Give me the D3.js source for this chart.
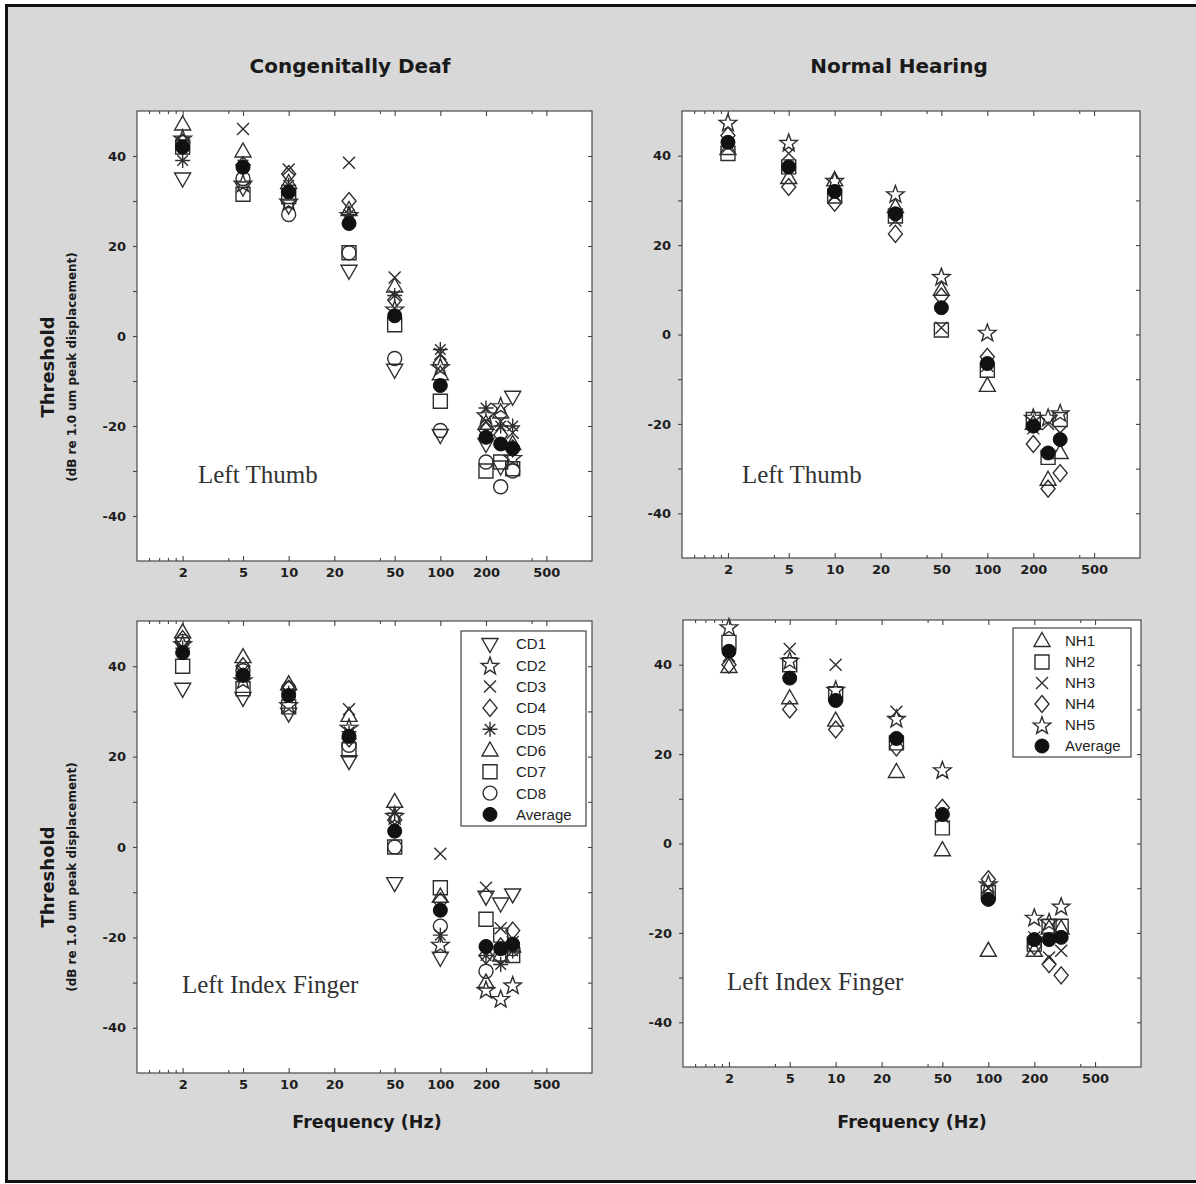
<!DOCTYPE html>
<html>
<head>
<meta charset="utf-8">
<script src="https://cdn.jsdelivr.net/npm/d3@7"></script>
<style>
  html, body { margin: 0; padding: 0; background: #ffffff; }
  svg { display: block; }
</style>
</head>
<body>
<svg id="chart" width="1196" height="1184"></svg>
<script>
// ---- data -------------------------------------------------------------
const freqs = [2, 5, 10, 25, 50, 100, 200, 250, 300];

const cdSubjects = ["CD1", "CD2", "CD3", "CD4", "CD5", "CD6", "CD7", "CD8"];
const cdSymbols  = ["triangleDown", "star", "cross", "diamond", "asterisk", "triangleUp", "square", "circle"];
const nhSubjects = ["NH1", "NH2", "NH3", "NH4", "NH5"];
const nhSymbols  = ["triangleUp", "square", "cross", "diamond", "star"];

// thresholds (dB re 1.0 um peak displacement), one row per subject
const cdThumb = [
  [35, 33, 29, 14.5, -7.5, -22, -24, -29, -13.5],
  [44, 34, 30, 27, 6, -6.8, -17.5, -15.5, -27],
  [43, 46, 37, 38.5, 13, -4, -19, -19, -21.5],
  [43, 38, 36, 30, 8, -6, -21, -22, -25],
  [39, 38, 33.5, 27, 9, -3, -16, -20, -20],
  [47, 41, 34, 28, 11, -8.5, -19.5, -17, -24],
  [42, 31.5, 31, 18.5, 2.5, -14.5, -30, -28, -29.5],
  [43, 35, 27, 18.5, -5, -21, -28, -33.5, -30]
];
const cdThumbAverage = [42, 37.5, 32, 25, 4.5, -11, -22.5, -24, -25];

const nhThumb = [
  [41.5, 35, 34.5, 28.5, 10, -11.5, -20, -32.5, -26.5],
  [40.5, 37.5, 31, 26.5, 1, -8, -19, -27.5, -19],
  [42, 40.5, 31, 25.5, 1.5, -7, -21, -20, -22],
  [44.5, 33, 29.5, 22.5, 8.5, -5, -24.5, -34.5, -31],
  [47.5, 43, 34.5, 31.5, 13, 0.5, -18.5, -18.5, -17.5]
];
const nhThumbAverage = [43, 37.5, 32, 27, 6, -6.5, -20.5, -26.5, -23.5];

const cdIndex = [
  [35, 33, 29.5, 19, -8, -24.5, -11, -12.5, -10.5],
  [45, 37, 31.5, 26.5, 7, -21.5, -31.5, -33.5, -30.5],
  [44, 39, 34, 30.5, 5, -1.5, -9, -18, -21],
  [46, 40, 35, 24, 6, -12, -24, -22, -18.5],
  [44, 38, 34, 25.5, 7.5, -19.5, -24, -26, -23],
  [47.5, 42, 36, 29, 10, -11, -30, -24, -22],
  [40, 35, 31, 21.5, 0, -9, -16, -19.5, -24],
  [45.5, 39, 35, 22.5, 0, -17.5, -27.5, -24, -22.5]
];
const cdIndexAverage = [43, 38, 33.5, 24.5, 3.5, -14, -22, -22.5, -21.5];

const nhIndex = [
  [39.5, 32.5, 27.5, 16, -1.5, -24, -24, -19, -19],
  [45, 40, 33.5, 22.5, 3.5, -11, -22.5, -18.5, -18.5],
  [42, 43.5, 40, 29.5, 6, -10, -21, -25.5, -24],
  [40, 30, 25.5, 21.5, 8, -8, -23, -27, -29.5],
  [48.5, 41, 34.5, 28, 16.5, -9, -16.5, -17.5, -14]
];
const nhIndexAverage = [43, 37, 32, 23.5, 6.5, -12.5, -21.5, -21.5, -21];

const xTickLabels = [2, 5, 10, 20, 50, 100, 200, 500];
const xMinorTicks = [1.2, 1.4, 1.6, 1.8, 4, 40, 400];
const yTickValues = [-40, -30, -20, -10, 0, 10, 20, 30, 40];

const columnTitles = ["Congenitally Deaf", "Normal Hearing"];
const siteNames = ["Left Thumb", "Left Index Finger"];
const xTitle = "Frequency (Hz)";
const yTitle = "Threshold";
const ySubtitle = "(dB re 1.0 um peak displacement)";

// ---- layout -----------------------------------------------------------
const svg = d3.select("#chart");
const INK = "#2e2e2e";
const SANS_BOLD = "'DejaVu Sans', sans-serif";

// framed page background
svg.append("rect")
  .attr("x", 6.5).attr("y", 5.5)
  .attr("width", 1196).attr("height", 1176)
  .attr("fill", "#d8d8d8")
  .attr("stroke", "#111").attr("stroke-width", 3);

// marker outlines centred on (0,0)
function symbolPath(kind) {
  const p = d3.path();
  switch (kind) {
    case "triangleUp":
      p.moveTo(0, -8.5); p.lineTo(8, 5.5); p.lineTo(-8, 5.5); p.closePath(); break;
    case "triangleDown":
      p.moveTo(0, 8.5); p.lineTo(8, -5.5); p.lineTo(-8, -5.5); p.closePath(); break;
    case "square":
      p.rect(-7, -7, 14, 14); break;
    case "circle":
      p.moveTo(7, 0); p.arc(0, 0, 7, 0, 2 * Math.PI); break;
    case "diamond":
      p.moveTo(0, -8.5); p.lineTo(7, 0); p.lineTo(0, 8.5); p.lineTo(-7, 0); p.closePath(); break;
    case "cross":
      p.moveTo(-6, -6); p.lineTo(6, 6); p.moveTo(-6, 6); p.lineTo(6, -6); break;
    case "asterisk":
      p.moveTo(-7.5, 0); p.lineTo(7.5, 0);
      p.moveTo(0, -7.5); p.lineTo(0, 7.5);
      p.moveTo(-5.3, -5.3); p.lineTo(5.3, 5.3);
      p.moveTo(-5.3, 5.3); p.lineTo(5.3, -5.3); break;
    case "star": {
      const outer = 9.2, inner = 3.8;
      for (let i = 0; i < 10; i++) {
        const r = i % 2 === 0 ? outer : inner;
        const a = -Math.PI / 2 + i * Math.PI / 5;
        const px = r * Math.cos(a), py = r * Math.sin(a) + 1;
        if (i === 0) p.moveTo(px, py); else p.lineTo(px, py);
      }
      p.closePath(); break;
    }
  }
  return p.toString();
}

function drawSymbol(sel, kind) {
  if (kind === "average") {
    sel.append("circle").attr("r", 7).attr("fill", "#111").attr("stroke", "#111").attr("stroke-width", 1);
  } else {
    sel.append("path").attr("d", symbolPath(kind))
      .attr("fill", "none").attr("stroke", INK).attr("stroke-width", 1.4);
  }
}

const panels = [
  { left: 137, top: 111, w: 455, h: 450, subjects: cdSubjects, symbols: cdSymbols, values: cdThumb, average: cdThumbAverage,
    site: siteNames[0], siteX: 61, siteY: 372, legend: null },
  { left: 682, top: 111, w: 458, h: 447, subjects: nhSubjects, symbols: nhSymbols, values: nhThumb, average: nhThumbAverage,
    site: siteNames[0], siteX: 60, siteY: 372, legend: null },
  { left: 137, top: 621, w: 455, h: 452, subjects: cdSubjects, symbols: cdSymbols, values: cdIndex, average: cdIndexAverage,
    site: siteNames[1], siteX: 45, siteY: 372,
    legend: { x: 324, y: 10, w: 125, h: 195, row: 21.3, symX: 29, textX: 55 } },
  { left: 683, top: 620, w: 458, h: 447, subjects: nhSubjects, symbols: nhSymbols, values: nhIndex, average: nhIndexAverage,
    site: siteNames[1], siteX: 44, siteY: 370,
    legend: { x: 330, y: 8, w: 118, h: 129, row: 21, symX: 29, textX: 52 } }
];

panels.forEach(pn => {
  const g = svg.append("g").attr("transform", `translate(${pn.left},${pn.top})`);
  const x = d3.scaleLog().domain([1, 1000]).range([0, pn.w]);
  const y = d3.scaleLinear().domain([-50, 50]).range([pn.h, 0]);

  g.append("rect").attr("width", pn.w).attr("height", pn.h)
    .attr("fill", "#ffffff").attr("stroke", "#4a4a4a").attr("stroke-width", 1.2);

  // axes
  const styleAxis = a => {
    a.select(".domain").remove();
    a.selectAll(".tick line").attr("stroke", "#444").attr("stroke-width", 1.1);
    a.selectAll(".tick text").attr("fill", "#1e1e1e")
      .style("font-family", SANS_BOLD).style("font-weight", "bold").style("font-size", "13px");
  };
  g.append("g").attr("transform", `translate(0,${pn.h})`)
    .call(d3.axisBottom(x).tickValues(xTickLabels).tickFormat(d => String(d))
      .tickSizeInner(-5).tickSizeOuter(0).tickPadding(7))
    .call(styleAxis);
  g.append("g").attr("transform", `translate(0,${pn.h})`)
    .call(d3.axisBottom(x).tickValues(xMinorTicks).tickFormat("").tickSizeInner(-3).tickSizeOuter(0))
    .call(styleAxis);
  g.append("g")
    .call(d3.axisTop(x).tickValues(xTickLabels).tickFormat("").tickSizeInner(-5).tickSizeOuter(0))
    .call(styleAxis);
  g.append("g")
    .call(d3.axisTop(x).tickValues(xMinorTicks).tickFormat("").tickSizeInner(-3).tickSizeOuter(0))
    .call(styleAxis);
  g.append("g")
    .call(d3.axisLeft(y).tickValues(yTickValues).tickFormat(d => d % 20 === 0 ? String(d) : "")
      .tickSizeInner(4).tickSizeOuter(0).tickPadding(7))
    .call(styleAxis);
  g.append("g").attr("transform", `translate(${pn.w},0)`)
    .call(d3.axisRight(y).tickValues(yTickValues).tickFormat("").tickSizeInner(-4).tickSizeOuter(0))
    .call(styleAxis);

  // site label
  g.append("text").attr("x", pn.siteX).attr("y", pn.siteY)
    .attr("fill", "#333")
    .style("font-family", "'Liberation Serif', 'Times New Roman', serif")
    .style("font-size", "25px")
    .text(pn.site);

  // individual subjects, then the group average on top
  pn.values.forEach((row, i) => {
    const kind = pn.symbols[i];
    row.forEach((v, j) => {
      const m = g.append("g").attr("transform", `translate(${x(freqs[j])},${y(v)})`);
      drawSymbol(m, kind);
    });
  });
  pn.average.forEach((v, j) => {
    const m = g.append("g").attr("transform", `translate(${x(freqs[j])},${y(v)})`);
    drawSymbol(m, "average");
  });

  // legend
  if (pn.legend) {
    const L = pn.legend;
    const lg = g.append("g").attr("transform", `translate(${L.x},${L.y})`);
    lg.append("rect").attr("width", L.w).attr("height", L.h)
      .attr("fill", "#ffffff").attr("stroke", "#444").attr("stroke-width", 1.2);
    const names = pn.subjects.concat(["Average"]);
    const kinds = pn.symbols.concat(["average"]);
    names.forEach((nm, i) => {
      const cy = 13 + i * L.row;
      drawSymbol(lg.append("g").attr("transform", `translate(${L.symX},${cy})`), kinds[i]);
      lg.append("text").attr("x", L.textX).attr("y", cy).attr("dy", "0.36em")
        .attr("fill", "#1e1e1e")
        .style("font-family", "'Liberation Sans', Arial, sans-serif")
        .style("font-size", "15px")
        .text(nm);
    });
  }
});

// column titles
[[350, columnTitles[0]], [899, columnTitles[1]]].forEach(([cx, t]) => {
  svg.append("text").attr("x", cx).attr("y", 73).attr("text-anchor", "middle")
    .attr("fill", "#1a1a1a")
    .style("font-family", SANS_BOLD).style("font-weight", "bold").style("font-size", "20px")
    .text(t);
});

// x-axis titles
[367, 912].forEach(cx => {
  svg.append("text").attr("x", cx).attr("y", 1128).attr("text-anchor", "middle")
    .attr("fill", "#1a1a1a")
    .style("font-family", SANS_BOLD).style("font-weight", "bold").style("font-size", "17.5px")
    .text(xTitle);
});

// y-axis titles
[367, 877].forEach(cy => {
  svg.append("text").attr("transform", `translate(54,${cy}) rotate(-90)`)
    .attr("text-anchor", "middle").attr("fill", "#1a1a1a")
    .style("font-family", SANS_BOLD).style("font-weight", "bold").style("font-size", "18px")
    .text(yTitle);
  svg.append("text").attr("transform", `translate(76,${cy}) rotate(-90)`)
    .attr("text-anchor", "middle").attr("fill", "#1a1a1a")
    .style("font-family", SANS_BOLD).style("font-weight", "bold").style("font-size", "12px")
    .text(ySubtitle);
});
</script>
</body>
</html>
